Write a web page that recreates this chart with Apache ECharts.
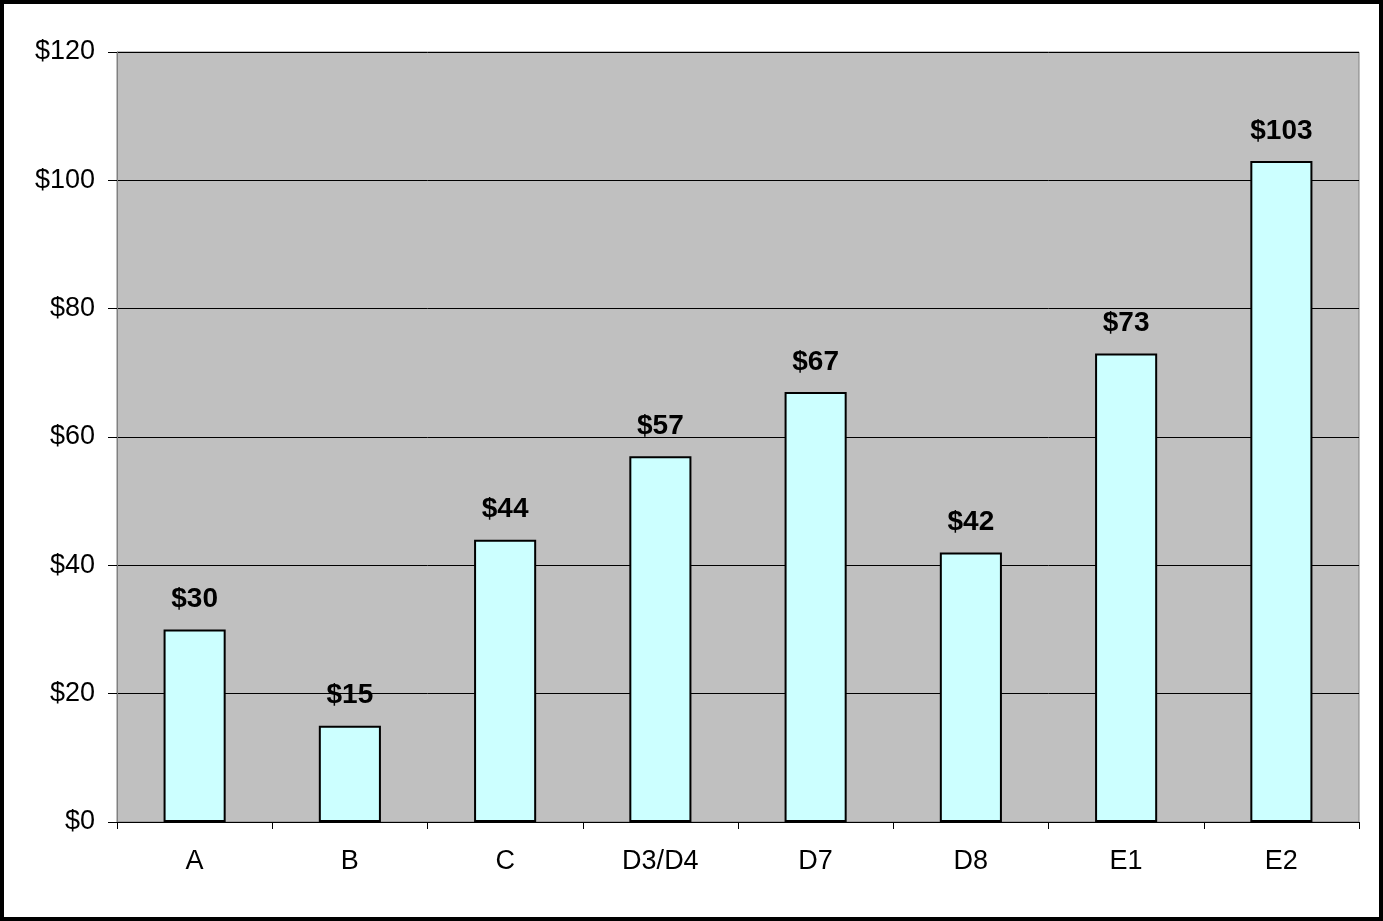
<!DOCTYPE html>
<html>
<head>
<meta charset="utf-8">
<script src="https://cdn.jsdelivr.net/npm/echarts@6/dist/echarts.min.js"></script>
<style>
  html, body { margin: 0; padding: 0; background: #fff; }
  #chart {
    width: 1383px;
    height: 921px;
    box-sizing: border-box;
    border: 4px solid #000;
  }
</style>
</head>
<body>
<div id="chart"></div>
<script>
// categories & values
const categories = ['A', 'B', 'C', 'D3/D4', 'D7', 'D8', 'E1', 'E2']
const values = [30, 15, 44, 57, 67, 42, 73, 103]
const yMin = 0
const yMax = 120
const yStep = 20

const myChart = echarts.init(document.getElementById('chart'))

myChart.setOption({
  animation: false,
  textStyle: { fontFamily: 'Liberation Sans, Arial, sans-serif' },
  grid: {
    left: 113,
    top: 48,
    right: 20,
    bottom: 95,
    show: true,
    backgroundColor: '#C0C0C0',
    borderColor: '#808080',
    borderWidth: 1
  },
  xAxis: {
    type: 'category',
    data: categories,
    axisLine: { lineStyle: { color: '#000', width: 1 } },
    // 刻度在分类之间
    axisTick: {
      show: true,
      alignWithLabel: false,
      length: 7,
      lineStyle: { color: '#000' }
    },
    axisLabel: {
      color: '#000',
      fontSize: 27,
      margin: 26
    },
    splitLine: { show: false }
  },
  yAxis: {
    type: 'value',
    min: yMin,
    max: yMax,
    interval: yStep,
    axisLine: { show: true, lineStyle: { color: '#808080' } },
    axisTick: {
      show: true,
      inside: false,
      length: 9,
      lineStyle: { color: '#000' }
    },
    axisLabel: {
      color: '#000',
      fontSize: 27,
      margin: 22,
      formatter: v => '$' + v
    },
    splitLine: { show: true, lineStyle: { color: '#000', width: 1 } }
  },
  series: [
    {
      type: 'bar',
      data: values,
      barCategoryGap: '60%',
      itemStyle: {
        color: '#CCFFFF',
        borderColor: '#000',
        borderWidth: 2
      },
      label: {
        show: true,
        position: 'top',
        distance: 16,
        color: '#000',
        fontSize: 28,
        fontWeight: 'bold',
        formatter: p => '$' + p.value
      }
    }
  ]
})
</script>
</body>
</html>
